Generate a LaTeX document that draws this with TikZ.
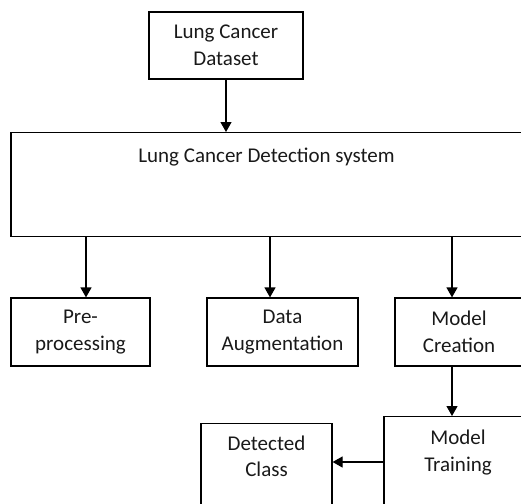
\documentclass[tikz,border=0pt]{standalone}
\usepackage{fontspec}
\setmainfont{Carlito}
\usetikzlibrary{arrows.meta}
\begin{document}
\begin{tikzpicture}[x=1pt,y=-1pt,
    box/.style={draw, line width=1.2pt, inner sep=0pt, align=center, text=black!90,
        font=\fontsize{21}{26.5}\selectfont},
    arr/.style={line width=1.2pt, -{Triangle[width=11pt,length=10pt]}}]
        \useasboundingbox (0,0) rectangle (521,503);
        \clip (0,0) rectangle (521,503);

        \node[box, minimum width=154pt, minimum height=67pt] (data) at (226,45.5) {Lung Cancer\\Dataset};
        \node[box, minimum width=511pt, text height=30pt, text depth=74pt, anchor=north] (sys) at (266.5,132) {Lung Cancer Detection system};
        \node[box, minimum width=139pt, minimum height=68pt] (pre) at (80.5,332) {Pre-\\processing};
        \node[box, minimum width=151pt, minimum height=68pt] (aug) at (282.5,332) {Data\\Augmentation};
        \node[box, minimum width=128pt, minimum height=68pt] (create) at (459,332) {Model\\Creation};
        \node[box, minimum width=148pt, text height=54.5pt, text depth=50pt, anchor=north] (train) at (458,416) {Model\\Training};
        \node[box, minimum width=131pt, text height=53pt, text depth=44pt, anchor=north] (detect) at (266.5,423) {Detected\\Class};

        \draw[arr] (data.south) -- (data.south |- sys.north);
        \draw[arr] ([xshift=5.5pt]pre.north |- sys.south) -- ([xshift=5.5pt]pre.north);
        \draw[arr] ([xshift=-12.5pt]aug.north |- sys.south) -- ([xshift=-12.5pt]aug.north);
        \draw[arr] ([xshift=-7pt]create.north |- sys.south) -- ([xshift=-7pt]create.north);
        \draw[arr] ([xshift=-7pt]create.south) -- ([xshift=-7pt]create.south |- train.north);
        \draw[arr] (train.west |- 0,462) -- (detect.east |- 0,462);

    \end{tikzpicture}
\end{document}
